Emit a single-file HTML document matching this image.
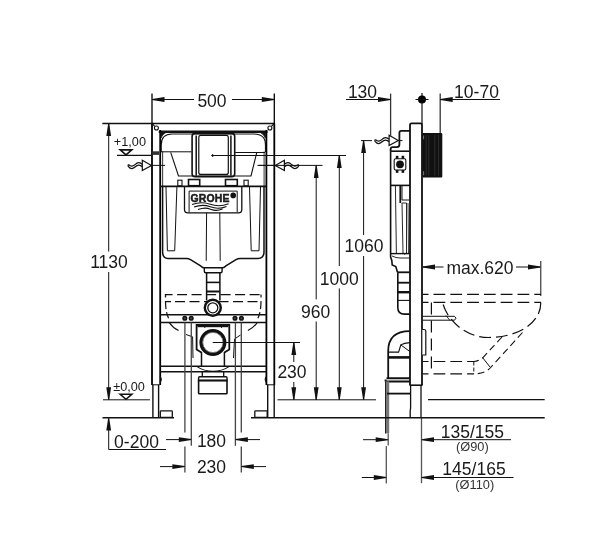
<!DOCTYPE html>
<html><head><meta charset="utf-8"><style>
html,body{margin:0;padding:0;background:#fff;}
svg{display:block;will-change:transform;}
text{font-family:"Liberation Sans", sans-serif;}
</style></head><body>
<svg width="612" height="547" viewBox="0 0 612 547">
<rect width="612" height="547" fill="#fff"/>
<line x1="102.5" y1="123.5" x2="274.5" y2="123.5" stroke="#111" stroke-width="1.3" />
<line x1="152" y1="123.5" x2="152" y2="385" stroke="#000" stroke-width="1.8" />
<line x1="274.3" y1="123.5" x2="274.3" y2="385" stroke="#000" stroke-width="1.8" />
<line x1="152" y1="123.5" x2="154.8" y2="126.4" stroke="#111" stroke-width="1.1" />
<line x1="274.3" y1="123.5" x2="271.5" y2="126.4" stroke="#111" stroke-width="1.1" />
<circle cx="156.4" cy="128.0" r="2.0" stroke="#111" stroke-width="1.1" fill="none"/>
<circle cx="269.9" cy="128.0" r="2.0" stroke="#111" stroke-width="1.1" fill="none"/>
<line x1="158.8" y1="131.8" x2="267.5" y2="131.8" stroke="#111" stroke-width="2.6" />
<line x1="160.2" y1="130" x2="160.2" y2="385" stroke="#000" stroke-width="1.8" />
<line x1="266.4" y1="130" x2="266.4" y2="385" stroke="#000" stroke-width="1.8" />
<line x1="152" y1="384.8" x2="159.6" y2="384.8" stroke="#111" stroke-width="1.0" />
<line x1="266.7" y1="384.8" x2="274.3" y2="384.8" stroke="#111" stroke-width="1.0" />
<path d="M152.9,384.8 L152.9,418 M158.6,384.8 L158.6,418" stroke="#111" stroke-width="1.4" fill="none" />
<path d="M267.7,384.8 L267.7,418 M274.2,384.8 L274.2,418" stroke="#111" stroke-width="1.4" fill="none" />
<rect x="160.3" y="410.8" width="12" height="6.6" rx="0.8" stroke="#111" stroke-width="1.3" fill="none" />
<rect x="254.8" y="410.8" width="12.4" height="6.6" rx="0.8" stroke="#111" stroke-width="1.3" fill="none" />
<path d="M160,376.5 Q162.5,379.5 160,382.5" stroke="#111" stroke-width="1.2" fill="none" />
<path d="M266.5,376.5 Q264,379.5 266.5,382.5" stroke="#111" stroke-width="1.2" fill="none" />
<rect x="152.5" y="151.3" width="6.5" height="3.6" rx="0" stroke="#111" stroke-width="0" fill="#333" />
<line x1="160" y1="314.7" x2="266.5" y2="314.7" stroke="#111" stroke-width="1.6" />
<line x1="160" y1="322.5" x2="266.5" y2="322.5" stroke="#111" stroke-width="1.6" />
<line x1="160" y1="366.3" x2="266.5" y2="366.3" stroke="#111" stroke-width="1.6" />
<line x1="160" y1="371.8" x2="266.5" y2="371.8" stroke="#111" stroke-width="1.6" />
<path d="M161.2,152 L161.2,145 Q161.2,134 172,134 L254,134 Q265.5,134 265.5,145 L265.5,152" stroke="#111" stroke-width="1.2" fill="none" />
<line x1="162.6" y1="151.5" x2="162.6" y2="186.3" stroke="#444" stroke-width="1.1" />
<line x1="264.1" y1="151.5" x2="264.1" y2="186.3" stroke="#444" stroke-width="1.1" />
<path d="M160.5,132.5 L166,132.5 Q162,134.5 161,138 Z" stroke="#111" stroke-width="0.8" fill="#111" />
<path d="M265.8,132.5 L260.3,132.5 Q264.3,134.5 265.3,138 Z" stroke="#111" stroke-width="0.8" fill="#111" />
<line x1="160" y1="151.8" x2="191.5" y2="151.8" stroke="#111" stroke-width="1.0" />
<line x1="235.2" y1="152.5" x2="265" y2="152.5" stroke="#111" stroke-width="1.0" />
<path d="M170.7,152.4 L178.5,176 L251,176 L256.8,152.4" stroke="#111" stroke-width="1.1" fill="none" />
<rect x="192.1" y="133.4" width="42.6" height="43.4" rx="3" stroke="#111" stroke-width="1.6" fill="none" />
<rect x="198.8" y="135.3" width="29.5" height="39.1" rx="2" stroke="#111" stroke-width="1.2" fill="none" />
<line x1="196.2" y1="135.5" x2="196.2" y2="175.8" stroke="#111" stroke-width="1.5" />
<line x1="230.9" y1="135.5" x2="230.9" y2="175.8" stroke="#111" stroke-width="1.5" />
<line x1="198" y1="176.2" x2="229" y2="176.2" stroke="#111" stroke-width="0.9" />
<line x1="211.2" y1="155.5" x2="214.2" y2="155.5" stroke="#111" stroke-width="1.0" />
<line x1="212.7" y1="154" x2="212.7" y2="157" stroke="#111" stroke-width="1.0" />
<rect x="177.8" y="180.2" width="4.2" height="5.6" rx="0" stroke="#111" stroke-width="1.1" fill="none" />
<rect x="244" y="180.2" width="4.2" height="5.6" rx="0" stroke="#111" stroke-width="1.1" fill="none" />
<rect x="188.5" y="179.5" width="11.2" height="6.2" rx="0" stroke="#111" stroke-width="1.6" fill="none" />
<rect x="225.5" y="179.5" width="11.8" height="6.2" rx="0" stroke="#111" stroke-width="1.6" fill="none" />
<line x1="160" y1="186.3" x2="266.5" y2="186.3" stroke="#111" stroke-width="1.8" />
<path d="M162.6,186.3 L162.6,252 Q162.6,258.4 168,258.4 L186.5,258.4 Q188.5,258.4 190.5,259.6 L201,266.2 Q202.5,267.8 204.5,267.8 L222,267.8 Q224,267.8 225.5,266.2 L236,259.6 Q238,258.4 240,258.4 L258,258.4 Q264,258.4 264,252 L264,186.3" stroke="#111" stroke-width="1.5" fill="none" />
<path d="M184.5,187 L184.5,209.5 Q184.5,212.8 187.8,212.8 L238.5,212.8 Q241.8,212.8 241.8,209.5 L241.8,187" stroke="#111" stroke-width="1.3" fill="none" />
<path d="M189.1,212.4 L189.1,191.1 L237.2,191.1 L237.2,212.4" stroke="#111" stroke-width="1.0" fill="none" />
<text x="210.1" y="201.8" font-size="10.6" text-anchor="middle" font-weight="bold" fill="#222" stroke="#111" stroke-width="0.5" letter-spacing="0.15" textLength="39" lengthAdjust="spacingAndGlyphs">GROHE</text>
<circle cx="233.2" cy="195.4" r="2.8" stroke="#111" stroke-width="0" fill="#111"/>
<path d="M192,204.6 Q201.5,201.2 210.3,204.3 Q219,207.4 228.6,203.8" stroke="#111" stroke-width="1.1" fill="none" />
<path d="M194,207 Q202.5,203.8 210.3,206.8 Q218.5,209.8 226.5,206.4" stroke="#111" stroke-width="1.1" fill="none" />
<path d="M198,209.6 Q205,206.8 210.5,209.2 Q216.5,211.6 222.5,209" stroke="#111" stroke-width="1.1" fill="none" />
<path d="M166,187 L167.4,250.8 L174.7,250.8 L176.9,187" stroke="#111" stroke-width="1.0" fill="none" />
<path d="M249.5,187 L251.2,250.8 L259,250.8 L260.5,187" stroke="#111" stroke-width="1.0" fill="none" />
<line x1="206.6" y1="212.8" x2="206.2" y2="260.8" stroke="#111" stroke-width="1.0" />
<line x1="219.8" y1="212.8" x2="220.2" y2="260.8" stroke="#111" stroke-width="1.0" />
<path d="M204.3,267.8 L204.3,271.2 Q204.3,272.7 205.8,272.7 L220.6,272.7 Q222.1,272.7 222.1,271.2 L222.1,267.8" stroke="#111" stroke-width="1.4" fill="none" />
<path d="M206.6,272.7 L206.6,300.5 M219.9,272.7 L219.9,300.5" stroke="#111" stroke-width="1.5" fill="none" />
<line x1="206.6" y1="282.4" x2="219.9" y2="282.4" stroke="#111" stroke-width="1.6" />
<line x1="206.6" y1="291.5" x2="219.9" y2="291.5" stroke="#111" stroke-width="2.0" />
<path d="M165.5,297.5 L165.5,294.6 L260,294.6" stroke="#111" stroke-width="1.3" fill="none" stroke-dasharray="10,4.5"/>
<path d="M175,301.6 L260,301.6" stroke="#111" stroke-width="1.3" fill="none" stroke-dasharray="10,4.5"/>
<path d="M165.5,301.6 L171,301.6" stroke="#111" stroke-width="1.3" fill="none" />
<path d="M165.5,301 Q165.5,312 168.6,318.2" stroke="#111" stroke-width="1.2" fill="none" stroke-dasharray="8,3"/>
<path d="M261,297.5 L261,294.5" stroke="#111" stroke-width="1.2" fill="none" />
<path d="M261,301 Q261,312 257.9,318.2" stroke="#111" stroke-width="1.2" fill="none" stroke-dasharray="8,3"/>
<circle cx="212.8" cy="307.8" r="8.0" stroke="#111" stroke-width="2.4" fill="#fff"/>
<circle cx="212.8" cy="307.8" r="5.0" stroke="#111" stroke-width="1.3" fill="none"/>
<circle cx="184.8" cy="318.2" r="1.8" stroke="#111" stroke-width="1.5" fill="#444"/>
<circle cx="191.2" cy="318.2" r="1.8" stroke="#111" stroke-width="1.5" fill="#444"/>
<circle cx="235.0" cy="318.2" r="1.8" stroke="#111" stroke-width="1.5" fill="#444"/>
<circle cx="241.4" cy="318.2" r="1.8" stroke="#111" stroke-width="1.5" fill="#444"/>
<path d="M169.3,322.6 Q172.5,327.5 178.6,330.6" stroke="#111" stroke-width="1.1" fill="none" />
<path d="M257.2,322.6 Q254,327.5 247.9,330.6" stroke="#111" stroke-width="1.1" fill="none" />
<path d="M186,334.5 L192.6,336.8 L193,358" stroke="#111" stroke-width="1.0" fill="none" />
<path d="M240.5,335 L234.5,339 L233.5,358" stroke="#111" stroke-width="1.0" fill="none" />
<path d="M201.5,352.5 L196.6,349.5 L196.6,325 L229.3,325 L229.3,349.5 L224.4,352.5" stroke="#111" stroke-width="1.8" fill="none" />
<line x1="197.6" y1="326.6" x2="228.3" y2="326.6" stroke="#111" stroke-width="1.2" />
<line x1="204.8" y1="325" x2="204.8" y2="328" stroke="#111" stroke-width="0.9" />
<line x1="221.5" y1="325" x2="221.5" y2="328" stroke="#111" stroke-width="0.9" />
<circle cx="212.9" cy="342.5" r="11.9" stroke="#111" stroke-width="3.2" fill="#fff"/>
<circle cx="212.9" cy="342.5" r="10.1" stroke="#666" stroke-width="0.8" fill="none"/>
<path d="M201.5,352 L201.5,366.3 M224.4,352 L224.4,366.3" stroke="#111" stroke-width="1.5" fill="none" />
<line x1="212.9" y1="342.5" x2="300" y2="342.5" stroke="#111" stroke-width="1.0" />
<path d="M197,366.6 Q204,371.2 213,371.2 Q222,371.2 229,366.6" stroke="#111" stroke-width="1.1" fill="none" />
<path d="M202.3,372 L202.3,376.8 M223.7,372 L223.7,376.8" stroke="#111" stroke-width="1.3" fill="none" />
<path d="M198.6,380.5 L198.6,377.8 Q198.6,376.8 199.6,376.8 L226,376.8 Q227,376.8 227,377.8 L227,380.5" stroke="#111" stroke-width="1.4" fill="none" />
<rect x="198.6" y="380.5" width="28.4" height="13.2" rx="0.8" stroke="#111" stroke-width="1.6" fill="none" />
<line x1="197.8" y1="380.5" x2="227.8" y2="380.5" stroke="#111" stroke-width="1.8" />
<path d="M151.5,165.4 L142.3,160.3 L142.3,170.5 Z" stroke="#111" stroke-width="1.2" fill="#fff" />
<path d="M142.3,164.4 C139.8,161.8 137.3,162.4 135.3,164.4 C133.3,166.4 130.8,166.9 128.8,164.6" stroke="#111" stroke-width="1.25" fill="none" />
<path d="M142.3,166.8 C139.8,164.20000000000002 137.3,164.8 135.3,166.8 C133.3,168.8 130.8,169.3 128.8,167.0" stroke="#111" stroke-width="1.25" fill="none" />
<path d="M128.8,164.6 Q127.30000000000001,165.8 128.8,167.0" stroke="#111" stroke-width="1.25" fill="none" />
<line x1="151.5" y1="165.4" x2="165" y2="165.4" stroke="#111" stroke-width="1.0" />
<path d="M275.2,165.4 L284.4,160.3 L284.4,170.5 Z" stroke="#111" stroke-width="1.2" fill="#fff" />
<path d="M284.4,164.4 C286.9,161.8 289.4,162.4 291.4,164.4 C293.4,166.4 295.9,166.9 297.9,164.6" stroke="#111" stroke-width="1.25" fill="none" />
<path d="M284.4,166.8 C286.9,164.20000000000002 289.4,164.8 291.4,166.8 C293.4,168.8 295.9,169.3 297.9,167.0" stroke="#111" stroke-width="1.25" fill="none" />
<path d="M297.9,164.6 Q299.4,165.8 297.9,167.0" stroke="#111" stroke-width="1.25" fill="none" />
<line x1="258.6" y1="165.4" x2="275.2" y2="165.4" stroke="#111" stroke-width="1.0" />
<path d="M398.3,140.4 L389.1,135.3 L389.1,145.5 Z" stroke="#111" stroke-width="1.2" fill="#fff" />
<path d="M389.1,139.4 C386.6,136.8 384.1,137.4 382.1,139.4 C380.1,141.4 377.6,141.9 375.6,139.6" stroke="#111" stroke-width="1.25" fill="none" />
<path d="M389.1,141.8 C386.6,139.20000000000002 384.1,139.8 382.1,141.8 C380.1,143.8 377.6,144.3 375.6,142.0" stroke="#111" stroke-width="1.25" fill="none" />
<path d="M375.6,139.6 Q374.1,140.8 375.6,142.0" stroke="#111" stroke-width="1.25" fill="none" />
<path d="M410,385 L410,124.8 Q410,123.3 411.5,123.3 L420.5,123.3 Q422,123.3 422,124.8 L422,385" stroke="#111" stroke-width="1.8" fill="none" />
<line x1="409.5" y1="385.2" x2="422.6" y2="385.2" stroke="#111" stroke-width="1.6" />
<path d="M410.6,385 L410.6,408 L410.2,411 L410.2,418" stroke="#111" stroke-width="1.3" fill="none" />
<line x1="421" y1="385" x2="421" y2="418" stroke="#111" stroke-width="1.3" />
<rect x="422.3" y="132.9" width="20" height="44.5" rx="1" stroke="#111" stroke-width="0" fill="#111" />
<line x1="426.2" y1="135" x2="426.2" y2="175.5" stroke="#3a3a3a" stroke-width="0.7" />
<line x1="428.8" y1="135" x2="428.8" y2="175.5" stroke="#3a3a3a" stroke-width="0.7" />
<line x1="434.8" y1="135" x2="434.8" y2="175.5" stroke="#3a3a3a" stroke-width="0.7" />
<line x1="438.6" y1="135" x2="438.6" y2="175.5" stroke="#3a3a3a" stroke-width="0.7" />
<line x1="423.6" y1="135.5" x2="423.6" y2="139.3" stroke="#888" stroke-width="0.9" />
<line x1="423.6" y1="171.2" x2="423.6" y2="175.2" stroke="#888" stroke-width="0.9" />
<path d="M390.6,151.2 L390.6,149.4 Q390.6,147.2 392.8,147.2 L396.8,147.2 Q399.4,147.2 399.4,144.6 L399.4,132.8 Q399.4,130.9 401.3,130.9 L410,130.9" stroke="#111" stroke-width="1.8" fill="none" />
<line x1="390.6" y1="151.2" x2="410" y2="151.2" stroke="#111" stroke-width="1.6" />
<path d="M395.5,158.8 Q394.2,158.8 394.2,160 L394.2,168.8 Q394.2,170 395.5,170 L404.6,170 Q405.8,170 405.8,168.8 L405.8,160 Q405.8,158.8 404.6,158.8 Z" stroke="#111" stroke-width="1.1" fill="none" />
<rect x="395.8" y="155.8" width="2.6" height="3" rx="0" stroke="#111" stroke-width="0" fill="#111" />
<rect x="401.6" y="155.8" width="2.6" height="3" rx="0" stroke="#111" stroke-width="0" fill="#111" />
<rect x="395.8" y="170" width="2.6" height="2.8" rx="0" stroke="#111" stroke-width="0" fill="#111" />
<rect x="401.6" y="170" width="2.6" height="2.8" rx="0" stroke="#111" stroke-width="0" fill="#111" />
<circle cx="400" cy="164.3" r="3.9" stroke="#111" stroke-width="0" fill="#111"/>
<path d="M390.6,151.2 L390.6,257 L391.8,260.5 L392.2,265 L395.8,266.5 L397.5,272.3" stroke="#111" stroke-width="1.6" fill="none" />
<line x1="390.6" y1="185.4" x2="410" y2="185.4" stroke="#111" stroke-width="1.6" />
<line x1="395.4" y1="186" x2="396.4" y2="253.6" stroke="#111" stroke-width="0.9" />
<path d="M400.3,186 L400.3,203" stroke="#111" stroke-width="1.8" fill="none" />
<path d="M402,186 L402,200 L409,200" stroke="#111" stroke-width="1.0" fill="none" />
<path d="M402,203 L403,253 Q404.5,255.5 406.5,253 L406.5,203 Z" stroke="#111" stroke-width="0.9" fill="none" />
<line x1="408" y1="203" x2="408.5" y2="253.6" stroke="#111" stroke-width="0.8" />
<line x1="390.8" y1="253.6" x2="409.8" y2="253.6" stroke="#111" stroke-width="1.4" />
<path d="M392,256 Q396,258 400,258 L409.8,258" stroke="#111" stroke-width="0.9" fill="none" />
<path d="M397.8,272.3 L397.8,307.5 Q397.8,314.1 404.4,314.1 L409.8,314.1" stroke="#111" stroke-width="1.6" fill="none" />
<line x1="397.8" y1="272.3" x2="409.8" y2="272.3" stroke="#111" stroke-width="1.8" />
<line x1="397.8" y1="282.7" x2="409.8" y2="282.7" stroke="#111" stroke-width="1.8" />
<line x1="397.8" y1="292.2" x2="409.8" y2="292.2" stroke="#111" stroke-width="2.4" />
<line x1="397.8" y1="300.4" x2="409.8" y2="300.4" stroke="#111" stroke-width="1.1" />
<path d="M388.2,378.4 L388.2,351 Q388.2,331.1 409.8,331.1" stroke="#111" stroke-width="1.8" fill="none" />
<path d="M388.2,352.1 L398.6,352.1 L400.8,344.9 Q404,342.8 409.8,342.6" stroke="#111" stroke-width="1.1" fill="none" />
<line x1="400.8" y1="344.9" x2="409.8" y2="351.5" stroke="#111" stroke-width="1.0" />
<line x1="388.2" y1="357.4" x2="410" y2="357.4" stroke="#111" stroke-width="2.6" />
<path d="M386.5,378.2 L410,378.2 M385.4,381.4 L410,381.4" stroke="#111" stroke-width="2.0" fill="none" />
<path d="M385.6,379.5 L385.6,381.5" stroke="#111" stroke-width="2" fill="none" />
<rect x="385.1" y="381.4" width="4.1" height="52" rx="0" stroke="#111" stroke-width="0" fill="#777" />
<line x1="385.5" y1="381.4" x2="385.5" y2="433.4" stroke="#222" stroke-width="1.0" />
<line x1="388.2" y1="433.4" x2="388.2" y2="445.5" stroke="#555" stroke-width="1.3" />
<line x1="386.3" y1="446" x2="386.3" y2="483.5" stroke="#555" stroke-width="1.3" />
<line x1="387" y1="393.6" x2="410.6" y2="393.6" stroke="#111" stroke-width="1.8" />
<line x1="421.5" y1="418" x2="421.5" y2="483.2" stroke="#555" stroke-width="1.3" />
<path d="M422.6,294.3 L541,294.3" stroke="#111" stroke-width="1.2" fill="none" stroke-dasharray="11.8,5" stroke-dashoffset="5.9"/>
<path d="M422.6,302.4 L541,302.4" stroke="#111" stroke-width="1.2" fill="none" stroke-dasharray="11.8,5" stroke-dashoffset="5.9"/>
<path d="M431.4,302.4 L431.4,374" stroke="#111" stroke-width="1.2" fill="none" stroke-dasharray="12,6"/>
<path d="M540.8,302.4 C540.8,325 515,337.5 488.6,337.5 C465,337.5 447,320 442.5,302.4" stroke="#111" stroke-width="1.2" fill="none" stroke-dasharray="11.8,5"/>
<path d="M502,337 L482.5,358 Q478,361.5 474,361.5" stroke="#111" stroke-width="1.1" fill="none" stroke-dasharray="7,4"/>
<path d="M522.5,332.5 L492,366 Q486,373.8 474,373.8" stroke="#111" stroke-width="1.1" fill="none" stroke-dasharray="7,4"/>
<path d="M422.6,361.5 L474,361.5" stroke="#111" stroke-width="1.2" fill="none" stroke-dasharray="11.8,5" stroke-dashoffset="5.9"/>
<path d="M422.6,373.8 L474,373.8" stroke="#111" stroke-width="1.2" fill="none" stroke-dasharray="11.8,5" stroke-dashoffset="5.9"/>
<path d="M473.8,361.5 L473.8,373.8" stroke="#111" stroke-width="1.0" fill="none" stroke-dasharray="4,2"/>
<path d="M482.5,357.5 L490,367" stroke="#111" stroke-width="1.0" fill="none" />
<path d="M422.6,316.3 L454.5,316.3 L456,318.2 L454.5,320.2 L422.6,320.2" stroke="#111" stroke-width="1.0" fill="none" />
<line x1="446" y1="315.5" x2="450" y2="320.5" stroke="#111" stroke-width="0.9" />
<path d="M422.4,355 L425.8,355 L425.8,331 Q425.8,329.5 424,329.5 L422.4,329.5" stroke="#111" stroke-width="1.2" fill="#fff" />
<line x1="152" y1="93.5" x2="152" y2="124" stroke="#000" stroke-width="1.3" />
<line x1="274.3" y1="93.5" x2="274.3" y2="124" stroke="#000" stroke-width="1.3" />
<line x1="152" y1="99.5" x2="194" y2="99.5" stroke="#111" stroke-width="1.0" />
<line x1="232" y1="99.5" x2="274.5" y2="99.5" stroke="#111" stroke-width="1.0" />
<polygon points="152.00,99.00 152.00,100.00 164.50,101.90 164.50,97.10" fill="#111"/>
<polygon points="274.30,99.00 274.30,100.00 261.80,101.90 261.80,97.10" fill="#111"/>
<text x="212" y="107.2" font-size="17.5" text-anchor="middle" fill="#1a1a1a">500</text>
<line x1="102.5" y1="123.5" x2="152" y2="123.5" stroke="#111" stroke-width="1.0" />
<line x1="108.7" y1="123.5" x2="108.7" y2="251.5" stroke="#111" stroke-width="1.0" />
<line x1="108.7" y1="272" x2="108.7" y2="399.8" stroke="#111" stroke-width="1.0" />
<polygon points="108.20,123.50 109.20,123.50 111.10,136.00 106.30,136.00" fill="#111"/>
<polygon points="108.20,399.80 109.20,399.80 111.10,387.30 106.30,387.30" fill="#111"/>
<text x="109" y="268.2" font-size="17.5" text-anchor="middle" fill="#1a1a1a">1130</text>
<text x="129.9" y="145.5" font-size="12.7" text-anchor="middle" fill="#1a1a1a">+1,00</text>
<line x1="117" y1="155.3" x2="152" y2="155.3" stroke="#111" stroke-width="1.2" />
<path d="M120.2,149.9 L131.8,149.9 L126,154.9 Z" stroke="#111" stroke-width="1.6" fill="none" />
<text x="129.1" y="390.6" font-size="12.7" text-anchor="middle" fill="#1a1a1a">±0,00</text>
<line x1="103" y1="399.8" x2="150" y2="399.8" stroke="#111" stroke-width="1.0" />
<path d="M120.2,394.3 L131.8,394.3 L126,399.3 Z" stroke="#111" stroke-width="1.6" fill="none" />
<line x1="102.5" y1="417.8" x2="174" y2="417.8" stroke="#111" stroke-width="1.6" />
<line x1="251" y1="417.8" x2="544.7" y2="417.8" stroke="#111" stroke-width="1.6" />
<line x1="428" y1="399.6" x2="544.7" y2="399.6" stroke="#111" stroke-width="1.3" />
<polygon points="108.20,418.00 109.20,418.00 111.10,430.50 106.30,430.50" fill="#111"/>
<path d="M108.7,428 L108.7,449.5 L166,449.5" stroke="#111" stroke-width="1.0" fill="none" />
<text x="136.5" y="447.5" font-size="17.5" text-anchor="middle" fill="#1a1a1a">0-200</text>
<line x1="191.3" y1="322.5" x2="191.3" y2="445.8" stroke="#444" stroke-width="1.3" />
<line x1="235.4" y1="322.5" x2="235.4" y2="445.8" stroke="#444" stroke-width="1.3" />
<line x1="184.9" y1="322.5" x2="184.9" y2="432.5" stroke="#444" stroke-width="1.3" />
<line x1="184.9" y1="446.6" x2="184.9" y2="472.4" stroke="#444" stroke-width="1.3" />
<line x1="241.3" y1="322.5" x2="241.3" y2="432.5" stroke="#444" stroke-width="1.3" />
<line x1="241.3" y1="446.6" x2="241.3" y2="472.4" stroke="#444" stroke-width="1.3" />
<line x1="166" y1="439.6" x2="179" y2="439.6" stroke="#111" stroke-width="1.0" />
<polygon points="191.30,439.10 191.30,440.10 178.80,442.00 178.80,437.20" fill="#111"/>
<line x1="247" y1="439.6" x2="260" y2="439.6" stroke="#111" stroke-width="1.0" />
<polygon points="235.40,439.10 235.40,440.10 247.90,442.00 247.90,437.20" fill="#111"/>
<line x1="160" y1="466.6" x2="173" y2="466.6" stroke="#111" stroke-width="1.0" />
<polygon points="184.90,466.10 184.90,467.10 172.40,469.00 172.40,464.20" fill="#111"/>
<line x1="253" y1="466.6" x2="266" y2="466.6" stroke="#111" stroke-width="1.0" />
<polygon points="241.30,466.10 241.30,467.10 253.80,469.00 253.80,464.20" fill="#111"/>
<text x="211.5" y="447" font-size="17.5" text-anchor="middle" fill="#1a1a1a">180</text>
<text x="211.5" y="472.5" font-size="17.5" text-anchor="middle" fill="#1a1a1a">230</text>
<line x1="212.8" y1="342.5" x2="300" y2="342.5" stroke="#111" stroke-width="1.0" />
<line x1="293.8" y1="342" x2="293.8" y2="362" stroke="#111" stroke-width="1.0" />
<line x1="293.8" y1="382" x2="293.8" y2="399.8" stroke="#111" stroke-width="1.0" />
<polygon points="293.30,342.50 294.30,342.50 296.20,355.00 291.40,355.00" fill="#111"/>
<polygon points="293.30,399.80 294.30,399.80 296.20,387.30 291.40,387.30" fill="#111"/>
<text x="292" y="378" font-size="17.5" text-anchor="middle" fill="#1a1a1a">230</text>
<line x1="277.5" y1="399.8" x2="376" y2="399.8" stroke="#111" stroke-width="1.0" />
<line x1="257.5" y1="165.4" x2="322.5" y2="165.4" stroke="#111" stroke-width="1.0" />
<line x1="212.7" y1="155.5" x2="346" y2="155.5" stroke="#111" stroke-width="1.0" />
<line x1="361" y1="140.6" x2="372" y2="140.6" stroke="#111" stroke-width="1.0" />
<line x1="399" y1="140.6" x2="402.5" y2="140.6" stroke="#111" stroke-width="1.0" />
<line x1="316.2" y1="165.4" x2="316.2" y2="299.4" stroke="#111" stroke-width="1.0" />
<line x1="316.2" y1="321.5" x2="316.2" y2="399.8" stroke="#111" stroke-width="1.0" />
<polygon points="315.70,165.40 316.70,165.40 318.60,177.90 313.80,177.90" fill="#111"/>
<polygon points="315.70,399.80 316.70,399.80 318.60,387.30 313.80,387.30" fill="#111"/>
<text x="315.7" y="317.5" font-size="17.5" text-anchor="middle" fill="#1a1a1a">960</text>
<line x1="339.3" y1="155.5" x2="339.3" y2="266" stroke="#111" stroke-width="1.0" />
<line x1="339.3" y1="288.4" x2="339.3" y2="399.8" stroke="#111" stroke-width="1.0" />
<polygon points="338.80,155.50 339.80,155.50 341.70,168.00 336.90,168.00" fill="#111"/>
<polygon points="338.80,399.80 339.80,399.80 341.70,387.30 336.90,387.30" fill="#111"/>
<text x="339.3" y="285.2" font-size="17.5" text-anchor="middle" fill="#1a1a1a">1000</text>
<line x1="363.6" y1="140.6" x2="363.6" y2="235" stroke="#111" stroke-width="1.0" />
<line x1="363.6" y1="256" x2="363.6" y2="399.8" stroke="#111" stroke-width="1.0" />
<polygon points="363.10,140.60 364.10,140.60 366.00,153.10 361.20,153.10" fill="#111"/>
<polygon points="363.10,399.80 364.10,399.80 366.00,387.30 361.20,387.30" fill="#111"/>
<text x="364" y="251.8" font-size="17.5" text-anchor="middle" fill="#1a1a1a">1060</text>
<line x1="390.6" y1="93.6" x2="390.6" y2="136" stroke="#333" stroke-width="1.3" />
<line x1="346" y1="99.5" x2="390.5" y2="99.5" stroke="#111" stroke-width="1.0" />
<polygon points="390.50,99.00 390.50,100.00 378.00,101.90 378.00,97.10" fill="#111"/>
<text x="362.5" y="97.8" font-size="17.5" text-anchor="middle" fill="#1a1a1a">130</text>
<line x1="422" y1="93" x2="422" y2="124" stroke="#111" stroke-width="1.2" />
<circle cx="422" cy="99.5" r="4.0" stroke="#111" stroke-width="0" fill="#000"/>
<line x1="415.5" y1="99.5" x2="428.5" y2="99.5" stroke="#111" stroke-width="1.0" />
<line x1="440.2" y1="93.6" x2="440.2" y2="133" stroke="#333" stroke-width="1.3" />
<line x1="440.2" y1="99.5" x2="500" y2="99.5" stroke="#111" stroke-width="1.0" />
<polygon points="440.20,99.00 440.20,100.00 452.70,101.90 452.70,97.10" fill="#111"/>
<text x="476.5" y="97.8" font-size="17.5" text-anchor="middle" fill="#1a1a1a">10-70</text>
<line x1="422.5" y1="267" x2="443.5" y2="267" stroke="#111" stroke-width="1.0" />
<polygon points="422.50,266.50 422.50,267.50 435.00,269.40 435.00,264.60" fill="#111"/>
<line x1="516" y1="267" x2="540" y2="267" stroke="#111" stroke-width="1.0" />
<polygon points="540.50,266.50 540.50,267.50 528.00,269.40 528.00,264.60" fill="#111"/>
<line x1="540.8" y1="261" x2="540.8" y2="296" stroke="#111" stroke-width="1.0" />
<text x="480" y="274" font-size="17.5" text-anchor="middle" fill="#1a1a1a">max.620</text>
<line x1="363" y1="439.7" x2="376" y2="439.7" stroke="#111" stroke-width="1.0" />
<polygon points="388.20,439.20 388.20,440.20 375.70,442.10 375.70,437.30" fill="#111"/>
<line x1="433" y1="439.7" x2="511" y2="439.7" stroke="#111" stroke-width="1.0" />
<polygon points="421.50,439.20 421.50,440.20 434.00,442.10 434.00,437.30" fill="#111"/>
<text x="472.4" y="437.5" font-size="17.5" text-anchor="middle" fill="#1a1a1a">135/155</text>
<text x="472.4" y="450.6" font-size="12.8" text-anchor="middle" fill="#333">(Ø90)</text>
<line x1="361.8" y1="477.5" x2="374" y2="477.5" stroke="#111" stroke-width="1.0" />
<polygon points="386.30,477.00 386.30,478.00 373.80,479.90 373.80,475.10" fill="#111"/>
<line x1="433" y1="477.5" x2="513.5" y2="477.5" stroke="#111" stroke-width="1.0" />
<polygon points="421.50,477.00 421.50,478.00 434.00,479.90 434.00,475.10" fill="#111"/>
<text x="474" y="475" font-size="17.5" text-anchor="middle" fill="#1a1a1a">145/165</text>
<text x="474.8" y="489" font-size="12.8" text-anchor="middle" fill="#333">(Ø110)</text>
</svg>
</body></html>
